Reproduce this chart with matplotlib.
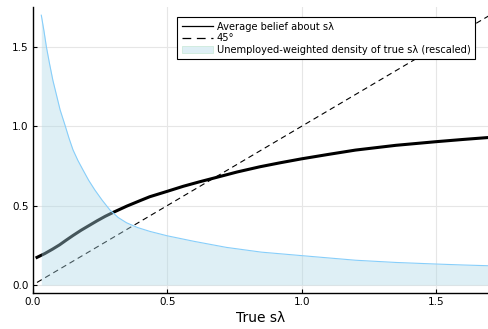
import numpy as np
import matplotlib
matplotlib.use("Agg")
import matplotlib.pyplot as plt

# average belief about s*lambda vs true value
belief_x = [0.016, 0.045, 0.074, 0.1, 0.125, 0.15, 0.18, 0.21, 0.24, 0.27, 0.3,
            0.35, 0.4, 0.435, 0.5, 0.56, 0.62, 0.67, 0.76, 0.845, 0.92,
            1.0, 1.1, 1.2, 1.35, 1.5, 1.6, 1.7]
belief_y = [0.174, 0.198, 0.226, 0.253, 0.283, 0.312, 0.345, 0.375, 0.405, 0.433, 0.458,
            0.497, 0.532, 0.556, 0.59, 0.622, 0.65, 0.672, 0.712, 0.745, 0.77,
            0.795, 0.823, 0.85, 0.88, 0.903, 0.917, 0.930]

# 45 degree reference
diag_x = [0.016, 1.7]
diag_y = [0.016, 1.7]

# unemployed-weighted density of true s*lambda (rescaled)
dens_x = [0.032, 0.042, 0.051, 0.062, 0.075, 0.088, 0.102, 0.12, 0.135, 0.15,
          0.168, 0.187, 0.208, 0.231, 0.258, 0.287, 0.318, 0.349, 0.39, 0.435,
          0.5, 0.6, 0.72, 0.85, 1.0, 1.2, 1.35, 1.5, 1.6, 1.7]
dens_y = [1.70, 1.60, 1.50, 1.40, 1.29, 1.20, 1.103, 1.008, 0.925, 0.851,
          0.785, 0.725, 0.66, 0.599, 0.535, 0.473, 0.425, 0.392, 0.362, 0.338,
          0.31, 0.275, 0.237, 0.207, 0.185, 0.156, 0.142, 0.132, 0.126, 0.121]

xticks = [0.0, 0.5, 1.0, 1.5]
yticks = [0.0, 0.5, 1.0, 1.5]

fig = plt.figure(figsize=(4.88, 3.29), dpi=100)
ax = fig.add_axes([0.067, 0.1104, 0.933, 0.8675])

ax.plot(belief_x, belief_y, color="black", lw=2.2, zorder=2,
        label="Average belief about s\u03bb")
ax.plot(diag_x, diag_y, color="black", lw=0.8, dashes=(5, 3.5), zorder=2,
        label="45\u00b0")
ax.fill_between(dens_x, 0, dens_y, color="lightblue", alpha=0.4, lw=0, zorder=3,
                label="Unemployed-weighted density of true s\u03bb (rescaled)")
ax.plot(dens_x, dens_y, color="lightskyblue", lw=0.8, zorder=3)

ax.set_xlim(0, 1.693)
ax.set_ylim(-0.0485, 1.75)
ax.set_xticks(xticks)
ax.set_yticks(yticks)
ax.set_xticklabels([f"{t:.1f}" for t in xticks])
ax.set_yticklabels([f"{t:.1f}" for t in yticks])
ax.tick_params(direction="in", length=3, width=0.8, labelsize=7.5, pad=3)
ax.grid(True, color="#e6e6e6", lw=0.8)
ax.set_axisbelow(True)
for side in ["top", "right"]:
    ax.spines[side].set_visible(False)
for side in ["left", "bottom"]:
    ax.spines[side].set_linewidth(1.0)

ax.set_xlabel("True s\u03bb", fontsize=10, labelpad=3)

leg = ax.legend(loc="upper right", bbox_to_anchor=(0.9714, 0.965), fontsize=7.1,
                frameon=True, fancybox=False, framealpha=1, edgecolor="black",
                handlelength=3.2, handletextpad=0.35, borderpad=0.45,
                labelspacing=0.15, borderaxespad=0)
leg.get_frame().set_linewidth(0.8)
leg_lines = leg.get_lines()
leg_lines[0].set_linewidth(0.9)
leg_lines[1].set_linewidth(0.9)
leg_lines[1].set_dashes((7, 4.5))
leg.get_patches()[0].set_edgecolor("#cdeadb")
leg.get_patches()[0].set_linewidth(0.6)

fig.savefig("out.png", dpi=100)
